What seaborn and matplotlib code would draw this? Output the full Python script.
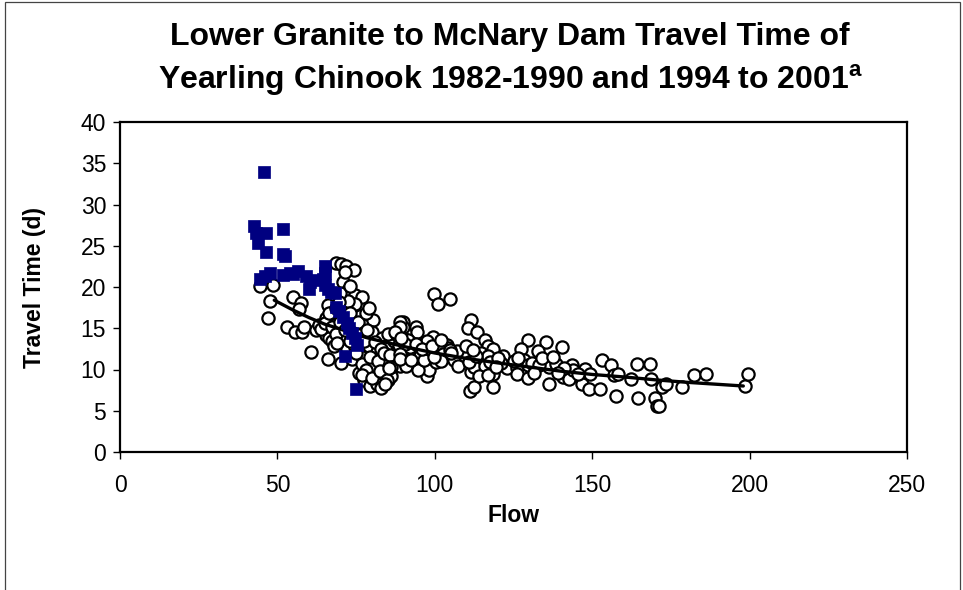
import matplotlib
matplotlib.use("Agg")
import matplotlib.pyplot as plt
import seaborn as sns
import pandas as pd
from matplotlib.patches import Rectangle

# ---- data ----
circle_flow = [
    44.4, 48.5, 47.8, 47.1, 55.0, 57.4, 56.8, 53.0, 55.7, 57.7, 58.4, 60.8, 66.0, 62.2, 63.3, 65.3, 66.0,
    65.5, 66.5, 64.0, 65.0, 67.0, 67.5, 66.5, 68.5, 67.5, 68.0,
    68.7, 70.3, 71.8, 74.4, 70.9, 72.5, 74.7, 76.8, 74.7, 76.3, 77.2, 80.4, 80.1, 83.3, 85.5, 79.0, 81.7,
    80.6, 75.8, 77.4, 79.5, 81.7, 82.8, 85.0, 70.3, 72.0, 73.6, 89.8, 90.0, 87.1, 86.5, 89.0, 69.8, 68.5,
    69.0, 74.7, 76.8, 76.8, 84.0, 86.0, 88.0, 71.0, 72.5, 73.0, 75.5, 76.0, 77.5, 78.5, 79.5, 81.0, 82.0,
    83.0, 84.5, 86.0, 87.0, 88.5, 89.5, 78.0, 77.0, 80.0, 82.5, 84.0, 85.0, 88.0, 90.0, 91.0, 90.5, 75.0,
    73.0, 71.5, 70.0, 71.5, 73.0, 69.5, 78.0, 79.0,
    99.7, 100.9, 104.7, 89.1, 89.1, 94.0, 94.2, 99.5, 111.4, 110.5, 113.4, 115.8, 117.0, 118.4, 121.7,
    123.0, 126.0, 126.0, 111.3, 112.6, 118.5, 111.4, 112.5, 106.0, 103.8, 104.3, 108.5, 101.5, 97.6, 97.6,
    97.6, 98.3, 100.5, 90.8, 90.8, 85.9, 84.8, 84.3, 86.0, 87.4, 91.5, 93.5, 114.7, 116.8, 118.4, 121.0,
    115.8, 114.0, 117.0, 109.5, 107.0, 107.5, 110.8, 102.6, 102.0, 95.4, 94.8, 92.0, 90.5, 89.3, 88.9,
    85.6, 89.0, 92.5, 96.5, 99.6, 104.8, 113.0, 94.0, 96.0, 99.0, 102.0, 105.0, 110.0, 112.0, 117.5, 120.0,
    119.5,
    129.7, 127.5, 135.3, 132.9, 140.5, 128.4, 129.5, 129.7, 136.4, 136.2, 138.5, 140.8, 142.7, 143.5, 144.0,
    146.7, 147.8, 149.2, 149.1, 152.5, 153.0, 156.0, 156.8, 158.3, 157.6, 162.3, 164.1, 164.7, 168.5, 168.8,
    170.1, 170.7, 171.2, 172.3, 173.4, 178.6, 182.4, 186.2, 198.4, 199.5, 131.0, 133.0, 134.0, 125.0, 126.5,
    137.5, 141.0, 145.5, 131.5, 139.0,
]
circle_time = [
    20.1, 20.3, 18.3, 16.2, 18.8, 18.1, 17.3, 15.1, 14.6, 14.6, 15.2, 12.1, 11.3, 14.8, 15.4, 16.3, 17.8,
    14.2, 13.8, 14.9, 15.6, 16.8, 15.2, 16.9, 17.5, 13.5, 12.8,
    22.9, 22.8, 22.6, 22.1, 20.6, 19.6, 19.0, 18.8, 17.9, 16.5, 15.4, 16.0, 14.6, 13.8, 13.1, 12.9, 12.1,
    10.6, 9.6, 8.75, 8.0, 8.3, 7.7, 8.75, 10.8, 12.5, 11.25, 15.8, 15.2, 11.7, 10.6, 10.4, 15.8, 14.3,
    13.2, 12.7, 11.5, 10.7, 10.8, 11.6, 12.2, 17.7, 18.3, 16.8, 15.8, 14.2, 13.5, 14.8, 11.5, 13.3, 11.0,
    12.5, 9.5, 9.2, 13.5, 13.0, 11.5, 10.0, 9.3, 9.0, 9.8, 12.0, 14.3, 14.2, 13.8, 12.2, 10.8, 12.0,
    13.5, 14.8, 19.3, 21.8, 20.1, 18.2, 16.8, 17.5,
    19.2, 18.0, 18.5, 15.8, 15.2, 15.1, 14.5, 14.0, 16.0, 15.0, 14.5, 13.6, 12.8, 12.5, 11.6,
    10.2, 10.2, 9.5, 7.4, 7.9, 7.9, 9.7, 10.3, 11.2, 13.0, 12.6, 12.1, 12.3, 13.4, 11.6,
    9.2, 10.0, 10.9, 11.2, 10.4, 11.8, 8.7, 8.3, 10.3, 14.5, 13.6, 12.5, 12.0, 11.6, 9.5, 10.8,
    10.4, 9.2, 9.3, 11.6, 12.3, 10.4, 10.9, 11.9, 11.0, 11.6, 10.0, 12.7, 13.1, 13.8, 11.9,
    10.2, 11.3, 11.1, 11.1, 11.5, 12.4, 11.6, 13.1, 12.5, 12.8, 13.6, 12.0, 12.8, 12.4, 10.9, 11.4,
    10.3,
    13.6, 12.5, 13.3, 12.2, 12.7, 11.2, 10.6, 9.0, 10.3, 8.3, 10.7, 9.1, 8.8, 10.5, 9.9,
    8.3, 10.1, 9.5, 7.6, 7.6, 11.1, 10.5, 9.3, 9.5, 6.8, 8.8, 10.7, 6.6, 10.7, 8.9,
    6.6, 5.6, 5.6, 7.9, 8.3, 7.9, 9.3, 9.5, 8.0, 9.5, 10.8, 10.5, 11.4, 11.0, 11.4,
    11.5, 10.2, 9.5, 9.6, 9.6,
]

square_flow = [45.8, 42.5, 43.3, 46.5, 51.7, 43.8, 46.5, 51.7, 52.3, 44.4, 46.0, 47.6, 51.7, 53.9,
               56.6, 55.0, 59.0, 60.3, 60.1, 62.0, 65.0, 65.0, 65.0, 64.5, 66.0, 67.0, 68.2, 68.7,
               69.7, 70.9, 72.0, 72.8, 73.6, 74.5, 75.4, 71.6, 75.0]
square_time = [34.0, 27.4, 26.5, 26.5, 27.0, 25.3, 24.3, 24.0, 23.7, 21.0, 21.3, 21.7, 21.5, 21.7,
               22.0, 21.6, 21.3, 20.6, 19.8, 20.8, 22.6, 21.7, 20.2, 21.0, 19.8, 19.4, 19.3, 17.6,
               17.1, 16.4, 15.6, 15.0, 14.4, 13.8, 13.0, 11.6, 7.6]

trend_flow = [49, 55, 60, 65, 70, 75, 80, 90, 100, 110, 120, 130, 140, 150, 160, 170, 180, 190, 198]
trend_time = [18.4, 17.2, 16.3, 15.5, 14.9, 14.2, 13.7, 12.8, 12.0, 11.35, 10.8, 10.3, 9.8, 9.4,
              9.1, 8.75, 8.45, 8.2, 8.0]

x_ticks = [0, 50, 100, 150, 200, 250]
y_ticks = [0, 5, 10, 15, 20, 25, 30, 35, 40]

title_line1 = "Lower Granite to McNary Dam Travel Time of"
title_line2 = r"Yearling Chinook 1982-1990 and 1994 to 2001$^{\mathbf{a}}$"

# ---- plotting ----
sns.set_style("white")
plt.rcParams['font.family'] = ['Liberation Sans', 'DejaVu Sans']
plt.rcParams['mathtext.fontset'] = 'custom'
plt.rcParams['mathtext.bf'] = 'Liberation Sans:bold'
plt.rcParams['mathtext.rm'] = 'Liberation Sans'
for k in ['text.color', 'axes.labelcolor', 'xtick.color', 'ytick.color']:
    plt.rcParams[k] = 'black'

fig = plt.figure(figsize=(9.63, 5.9), dpi=100)
ax = fig.add_axes([120 / 963, 1 - 452 / 590, (907 - 120) / 963, (452 - 122) / 590])

df_c = pd.DataFrame({"Flow": circle_flow, "Time": circle_time})
df_s = pd.DataFrame({"Flow": square_flow, "Time": square_time})
df_t = pd.DataFrame({"Flow": trend_flow, "Time": trend_time})

sns.scatterplot(data=df_c, x="Flow", y="Time", ax=ax, marker="o", s=78,
                facecolor="white", edgecolor="black", linewidth=1.6, zorder=2)
sns.lineplot(data=df_t, x="Flow", y="Time", ax=ax, color="black", linewidth=2.4,
             sort=False, estimator=None, zorder=3)
sns.scatterplot(data=df_s, x="Flow", y="Time", ax=ax, marker="s", s=80,
                color="#000080", edgecolor="#000080", linewidth=0.5, zorder=4)

ax.set_xlim(0, 250)
ax.set_ylim(0, 40)
ax.set_xticks(x_ticks)
ax.set_yticks(y_ticks)
ax.tick_params(axis="both", direction="out", length=5, width=1, colors="black",
               labelsize=16.5, left=True, bottom=True, pad=5)
ax.tick_params(axis="x", pad=11)
for s in ax.spines.values():
    s.set_color("black")
    s.set_linewidth(1.6)
ax.set_xlabel("Flow", fontsize=16.5, fontweight="bold", va="center")
ax.xaxis.set_label_coords(0.5, (452 - 516) / 330)
ax.set_ylabel("Travel Time (d)", fontsize=16.5, fontweight="bold", va="center")
ax.yaxis.set_label_coords((35 - 120) / 787, 0.5)

fig.text(510 / 963, 1 - 37 / 590, title_line1, ha="center", va="center",
         fontsize=23, fontweight="bold")
fig.text(510 / 963, 1 - 80 / 590, title_line2, ha="center", va="center",
         fontsize=23, fontweight="bold")

fig.patches.append(Rectangle((5 / 963, -0.05), 955 / 963, 1.05 - 2 / 590,
                             transform=fig.transFigure, fill=False,
                             edgecolor="#444444", linewidth=0.9))

fig.savefig("out.png", dpi=100)
